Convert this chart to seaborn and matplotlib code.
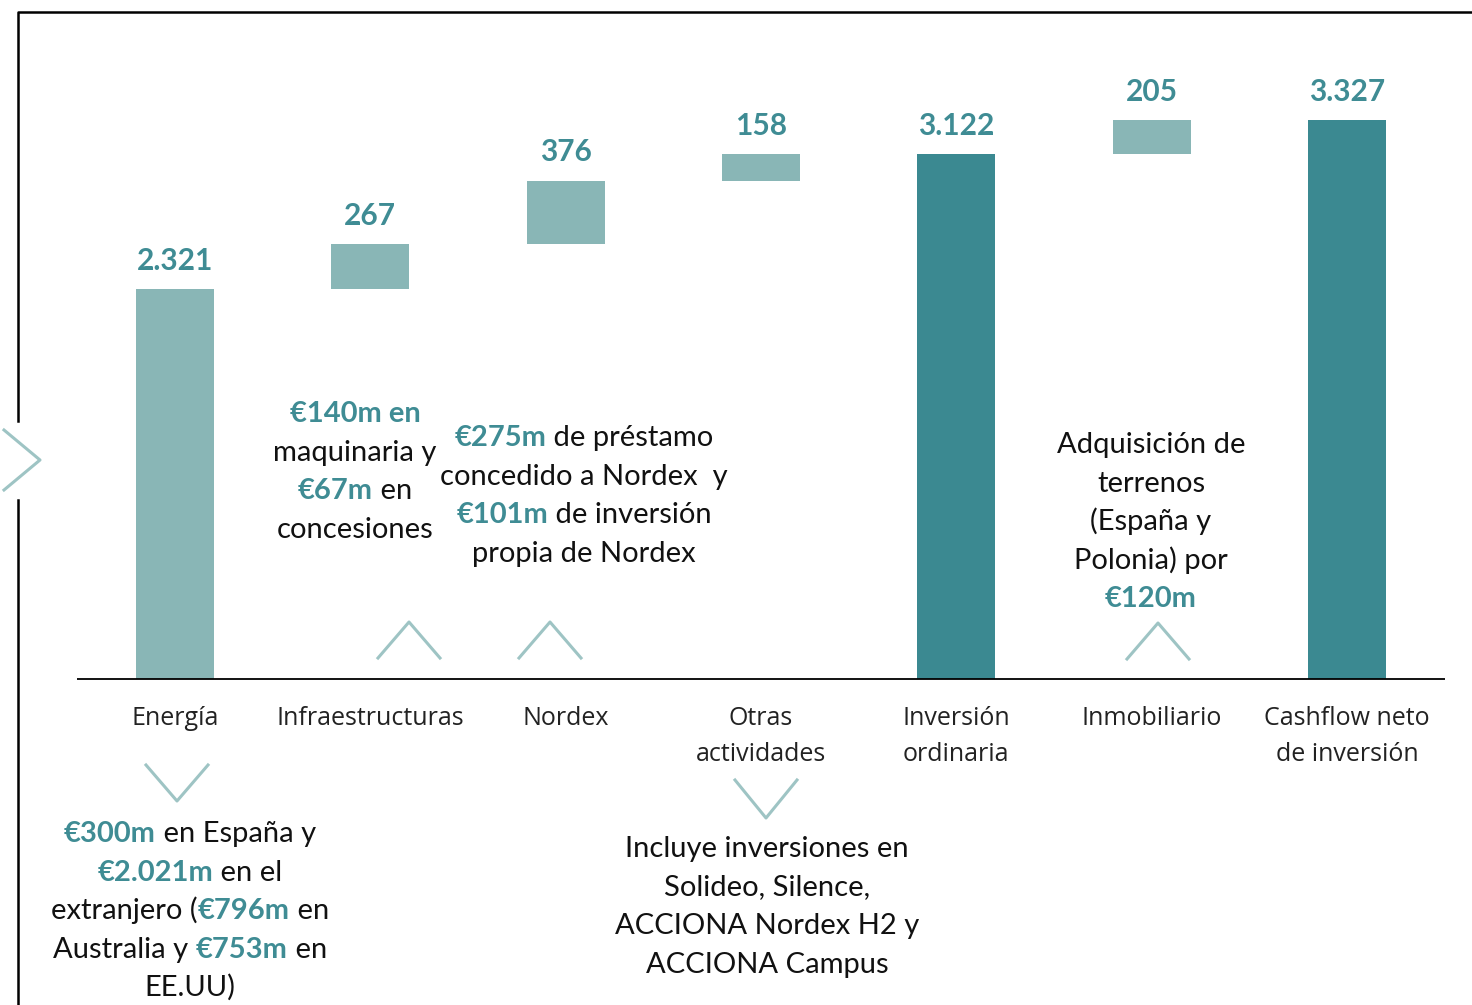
import pandas as pd
import seaborn as sns
import matplotlib.pyplot as plt

# data
categories = ["Energía", "Infraestructuras", "Nordex", "Otras\nactividades",
              "Inversión\nordinaria", "Inmobiliario", "Cashflow neto\nde inversión"]
values = [2321, 267, 376, 158, 3122, 205, 3327]
kinds = ["delta", "delta", "delta", "delta", "total", "delta", "total"]

LIGHT = "#89B6B6"
DARK = "#3B8991"
TEAL_TXT = "#3F8C94"
CHEV = "#9EC4C4"
INK = "#111111"
FONT = ["Lato", "DejaVu Sans"]

# waterfall bottoms
bottoms = []
running = 0
for v, k in zip(values, kinds):
    if k == "total":
        bottoms.append(0)
        running = v
    else:
        bottoms.append(running)
        running += v

df = pd.DataFrame({"cat": categories, "value": values, "bottom": bottoms, "kind": kinds})
df["top"] = df["bottom"] + df["value"]
bar_colors = [DARK if k == "total" else LIGHT for k in kinds]

W, H = 1472, 1005
fig = plt.figure(figsize=(W / 100, H / 100), dpi=100)
ax = fig.add_axes([0, 0, 1, 1])

# full-height bars, then mask the part below each floating step
sns.barplot(data=df, x="cat", y="top", hue="cat", palette=bar_colors, width=0.4,
            dodge=False, legend=False, ax=ax, saturation=1, linewidth=0)
sns.barplot(data=df, x="cat", y="bottom", color="white", width=0.42, ax=ax,
            saturation=1, linewidth=0)

ax.set_xlim(-0.896, 6.640)
ax.set_ylim(-1940, 4041)
ax.axis("off")
ax.hlines(0, -0.5, 6.5, color="black", lw=1.3)

# value labels
for i, (v, t) in enumerate(zip(values, df["top"])):
    ax.annotate(f"{v:,}".replace(",", "."), (i, t), xytext=(0, 20.5), textcoords="offset points",
                ha="center", va="center", fontsize=21.5, fontweight="bold", color=TEAL_TXT, family=FONT)

renderer = fig.canvas.get_renderer()


def rich_line(x, y, parts, size=21, family=FONT):
    # y is the baseline in pixels from the top of the image
    texts = []
    for s, bold in parts:
        t = fig.text(0, 0, s, transform=None, fontsize=size, family=family,
                     fontweight="bold" if bold else "normal",
                     color=TEAL_TXT if bold else INK, ha="left", va="baseline")
        texts.append(t)
    widths = [t.get_window_extent(renderer).width for t in texts]
    x0 = x - sum(widths) / 2
    for t, w in zip(texts, widths):
        t.set_position((x0, H - y))
        x0 += w


def block(x, y0, lines, step=38.5, size=21):
    for j, parts in enumerate(lines):
        if isinstance(parts, str):
            parts = [(parts, False)]
        rich_line(x, y0 + j * step, parts, size=size)


# category labels
for i, c in enumerate(categories):
    cx = 175 + 195.33 * i
    for j, line in enumerate(c.split("\n")):
        fig.text(cx, H - (725 + 36 * j), line, transform=None, ha="center", va="baseline",
                 fontsize=18, color="#222222", family=["Open Sans", "DejaVu Sans"])

# notes
block(355, 422, [[("€140m en", True)], "maquinaria y", [("€67m", True), (" en", False)], "concesiones"])
block(584, 446, [[("€275m", True), (" de préstamo", False)], "concedido a Nordex  y",
                 [("€101m", True), (" de inversión", False)], "propia de Nordex"])
block(1151, 453, ["Adquisición de", "terrenos", "(España y", "Polonia) por", [("€120m", True)]])
block(190, 842, [[("€300m", True), (" en España y", False)], [("€2.021m", True), (" en el", False)],
                 [("extranjero (", False), ("€796m", True), (" en", False)],
                 [("Australia y ", False), ("€753m", True), (" en", False)], "EE.UU)"])
block(767, 857, ["Incluye inversiones en", "Solideo, Silence,", "ACCIONA Nordex H2 y", "ACCIONA Campus"])

# chevrons
chevrons = [
    [(4, 430), (40, 460), (4, 490)],
    [(378, 658), (409, 622), (440, 658)],
    [(519, 658), (550, 622), (581, 658)],
    [(1127, 659), (1158, 623), (1189, 659)],
    [(146, 765), (177, 801), (208, 765)],
    [(735, 780), (766, 818), (797, 780)],
]
for pts in chevrons:
    xs = [p[0] for p in pts]
    ys = [H - p[1] for p in pts]
    fig.add_artist(plt.Line2D(xs, ys, transform=None, color=CHEV, lw=2.2))

# frame
fig.add_artist(plt.Line2D([18, 18, W], [H - 421, H - 12, H - 12], transform=None, color="black", lw=1.8))
fig.add_artist(plt.Line2D([18, 18], [H - 500, 0], transform=None, color="black", lw=1.8))

fig.savefig("out.png", dpi=100)
